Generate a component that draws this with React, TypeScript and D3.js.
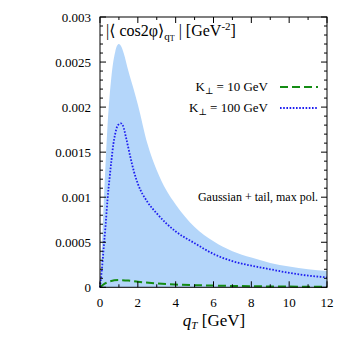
import React from "react";
import * as d3 from "d3";

const xTicks = [0, 2, 4, 6, 8, 10, 12];
const yTicks = [0, 0.0005, 0.001, 0.0015, 0.002, 0.0025, 0.003];
const yTickLabels = ["0", "0.0005", "0.001", "0.0015", "0.002", "0.0025", "0.003"];

const bandQ = [0, 0.1, 0.2, 0.3, 0.4, 0.5, 0.6, 0.7, 0.8, 0.9, 1.0, 1.1, 1.25, 1.5, 1.75, 2, 2.5, 3, 3.5, 4, 5, 6, 7, 8, 9, 10, 11, 12];
const bandUpper = [0, 0.00045, 0.00095, 0.0014, 0.0018, 0.0021, 0.00233, 0.0025, 0.00261, 0.00268, 0.0027, 0.00268, 0.0026, 0.0024, 0.00222, 0.00203, 0.0016, 0.0013, 0.00108, 0.00092, 0.00067, 0.00051, 0.0004, 0.00033, 0.00027, 0.00023, 0.0002, 0.00018];

const blueQ = [0, 0.1, 0.2, 0.3, 0.4, 0.5, 0.6, 0.7, 0.8, 0.9, 1.0, 1.1, 1.2, 1.4, 1.6, 1.8, 2, 2.5, 3, 3.5, 4, 5, 6, 7, 8, 9, 10, 11, 12];
const blueK100 = [0, 0.0002, 0.00045, 0.0007, 0.00098, 0.0012, 0.0014, 0.00158, 0.0017, 0.00178, 0.00181, 0.00182, 0.0018, 0.00164, 0.00145, 0.00128, 0.00115, 0.00095, 0.00082, 0.00071, 0.00062, 0.00049, 0.00037, 0.00029, 0.00024, 0.0002, 0.00016, 0.00013, 0.00011];

const greenQ = [0, 0.25, 0.5, 1, 1.5, 2, 3, 4, 6, 8, 10, 12];
const greenK10 = [0, 0.00004, 0.000065, 0.00008, 0.000075, 0.000062, 0.000042, 0.00003, 0.000019, 0.000012, 0.000008, 0.000006];

const W = 349, H = 349;
const L = 100, R = 327, T = 17, B = 287.3;

export default function App() {
  const x = d3.scaleLinear().domain([0, 12]).range([L, R]);
  const y = d3.scaleLinear().domain([0, 0.003]).range([B, T]);

  const area = d3.area<number>()
    .x((_, i) => x(bandQ[i]))
    .y0(() => y(0))
    .y1((d) => y(d))
    .curve(d3.curveMonotoneX);
  const blueLine = d3.line<number>()
    .x((_, i) => x(blueQ[i]))
    .y((d) => y(d))
    .curve(d3.curveMonotoneX);
  const greenLine = d3.line<number>()
    .x((_, i) => x(greenQ[i]))
    .y((d) => y(d))
    .curve(d3.curveMonotoneX);

  const xMinor = d3.range(0, 12.01, 1);
  const yMinor = d3.range(0, 0.00301, 0.0001);

  const font = "'Liberation Serif', 'DejaVu Serif', serif";

  return (
    <svg width={W} height={H} style={{ position: "absolute", left: 0, top: 0 }} fontFamily={font}>
      <rect x={0} y={0} width={W} height={H} fill="white" />
      <path d={area(bandUpper) || ""} fill="rgb(180,214,250)" />
      <path d={greenLine(greenK10) || ""} fill="none" stroke="rgb(20,140,20)" strokeWidth={2} strokeDasharray="8,4" />
      <path d={blueLine(blueK100) || ""} fill="none" stroke="rgb(30,30,240)" strokeWidth={1.8} strokeDasharray="1.6,1.6" />

      {/* frame */}
      <rect x={L} y={T} width={R - L} height={B - T} fill="none" stroke="black" strokeWidth={1} />

      {/* x ticks */}
      {xMinor.map((v) => {
        const major = v % 2 === 0;
        const len = major ? 6 : 3;
        return (
          <g key={"xt" + v}>
            <line x1={x(v)} x2={x(v)} y1={B} y2={B - len} stroke="black" />
            <line x1={x(v)} x2={x(v)} y1={T} y2={T + len} stroke="black" />
          </g>
        );
      })}
      {yMinor.map((v, i) => {
        const major = i % 5 === 0;
        const len = major ? 6 : 3;
        return (
          <g key={"yt" + i}>
            <line x1={L} x2={L + len} y1={y(v)} y2={y(v)} stroke="black" />
            <line x1={R} x2={R - len} y1={y(v)} y2={y(v)} stroke="black" />
          </g>
        );
      })}

      {xTicks.map((v) => (
        <text key={"xl" + v} x={x(v)} y={307} textAnchor="middle" fontSize={13}>{v}</text>
      ))}
      {yTicks.map((v, i) => (
        <text key={"yl" + i} x={91} y={y(v) + 4.5} textAnchor="end" fontSize={13}>{yTickLabels[i]}</text>
      ))}

      {/* axis label */}
      <text x={214} y={326} textAnchor="middle" fontSize={17}>
        <tspan fontStyle="italic">q</tspan>
        <tspan fontStyle="italic" fontSize={11} dy={3}>T</tspan>
        <tspan dy={-3}> [GeV]</tspan>
      </text>

      {/* title */}
      <text x={106} y={36} fontSize={16}>
        <tspan>|⟨ cos2φ⟩</tspan>
        <tspan fontSize={11} dy={4}>q</tspan>
        <tspan fontSize={8} dy={1}>T</tspan>
        <tspan dy={-5}> | [GeV</tspan>
        <tspan fontSize={11} dy={-6}>-2</tspan>
        <tspan dy={6}>]</tspan>
      </text>

      {/* legend */}
      <text x={268} y={91} textAnchor="end" fontSize={13}>
        K<tspan fontSize={9} dy={3}>⊥</tspan><tspan dy={-3}> = 10 GeV</tspan>
      </text>
      <line x1={280} x2={318} y1={87} y2={87} stroke="rgb(20,140,20)" strokeWidth={2} strokeDasharray="8,4" />
      <text x={268} y={112} textAnchor="end" fontSize={13}>
        K<tspan fontSize={9} dy={3}>⊥</tspan><tspan dy={-3}> = 100 GeV</tspan>
      </text>
      <line x1={280} x2={318} y1={108} y2={108} stroke="rgb(30,30,240)" strokeWidth={1.8} strokeDasharray="1.6,1.6" />

      <text x={318} y={201} textAnchor="end" fontSize={12}>Gaussian + tail, max pol.</text>
    </svg>
  );
}
